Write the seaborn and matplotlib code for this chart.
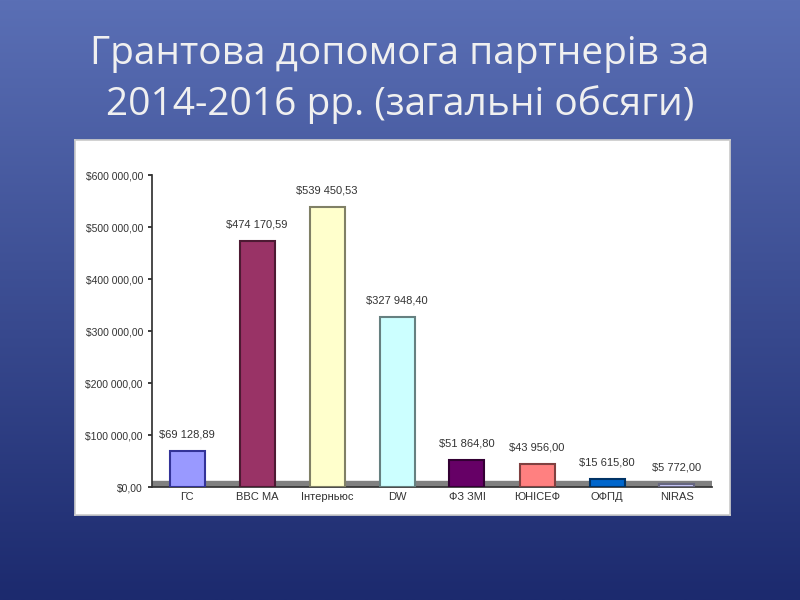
import numpy as np
import pandas as pd
import matplotlib
matplotlib.use('Agg')
import matplotlib.pyplot as plt
import seaborn as sns

partners = ['ГС', 'BBC MA', 'Інтерньюс', 'DW', 'ФЗ ЗМІ', 'ЮНІСЕФ', 'ОФПД', 'NIRAS']
amounts = [69128.89, 474170.59, 539450.53, 327948.40, 51864.80, 43956.00, 15615.80, 5772.00]
labels = ['$69 128,89', '$474 170,59', '$539 450,53', '$327 948,40',
          '$51 864,80', '$43 956,00', '$15 615,80', '$5 772,00']
colors = ['#9999ff', '#993366', '#ffffcc', '#ccffff', '#660066', '#ff8080', '#0066cc', '#ccccff']
edges = ['#333399', '#4d1a33', '#808066', '#668080', '#330033', '#804040', '#003366', '#666680']

sns.set_theme(style='white')
plt.rcParams['font.family'] = ['Liberation Sans', 'DejaVu Sans']

df = pd.DataFrame({'partner': partners, 'amount': amounts})

fig = plt.figure(figsize=(8, 6), dpi=100)

# blue gradient background
bg = fig.add_axes([0, 0, 1, 1])
grad = np.linspace(0, 1, 256).reshape(-1, 1)
cmap = matplotlib.colors.LinearSegmentedColormap.from_list('bg', ['#5a6fb5', '#1c2a6e'])
bg.imshow(grad, aspect='auto', cmap=cmap, extent=[0, 1, 0, 1])
bg.set_axis_off()

fig.text(0.5, 0.91, 'Грантова допомога партнерів за', color='#f0f0f0',
         fontsize=28, ha='center', va='center', family=['Open Sans', 'DejaVu Sans'])
fig.text(0.5, 0.825, '2014-2016 рр. (загальні обсяги)', color='#f0f0f0',
         fontsize=28, ha='center', va='center', family=['Open Sans', 'DejaVu Sans'])

# white panel
panel = fig.add_axes([0.094, 0.142, 0.819, 0.625])
panel.set_facecolor('white')
panel.set_xticks([])
panel.set_yticks([])
for s in panel.spines.values():
    s.set_color('#cccccc')

ax = fig.add_axes([0.19, 0.188, 0.7, 0.52])
ax.set_facecolor('none')
sns.barplot(data=df, x='partner', y='amount', hue='partner', palette=colors,
            legend=False, width=0.5, saturation=1, ax=ax, zorder=3)
for bar, ec in zip(ax.patches, edges):
    bar.set_edgecolor(ec)
    bar.set_linewidth(1.5)
ax.axhspan(0, 12000, color='#808080', zorder=1)
for i, t in enumerate(labels):
    ax.text(i, amounts[i] + 22000, t, ha='center', va='bottom', fontsize=8, color='#333333')
ax.set_ylim(0, 600000)
ax.set_yticks(np.arange(0, 600001, 100000))
ax.set_yticklabels([f'${v // 1000} 000,00' if v else '$0,00' for v in range(0, 600001, 100000)],
                   fontsize=7.5, color='#333333')
ax.set_xticks(range(len(partners)))
ax.set_xticklabels(partners, fontsize=8, color='#333333')
ax.set_xlabel('')
ax.set_ylabel('')
ax.tick_params(axis='y', length=3, left=True)
ax.tick_params(axis='x', length=0)
sns.despine(ax=ax, top=True, right=True)
ax.spines['left'].set_color('#333333')
ax.spines['bottom'].set_color('#333333')

fig.savefig('out.png', dpi=100)
